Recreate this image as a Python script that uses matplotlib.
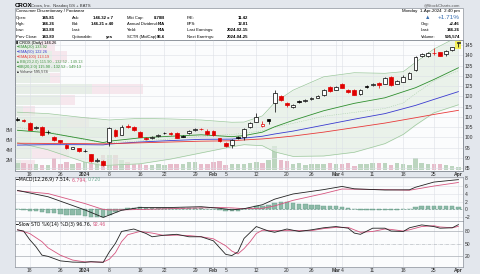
import numpy as np
import matplotlib.pyplot as plt

plt.rcParams['font.family'] = ['Liberation Sans', 'DejaVu Sans']

# ---------------- data ----------------
# daily candles, 14-Dec-2023 .. 1-Apr-2024
opens = [109.2, 108.3, 107.0, 104.6, 105.3, 102.6, 100.2, 98.6, 96.4, 94.6, 94.8, 93.2, 91.8, 88.8, 88.6,
         98.0, 103.6, 101.2, 105.6, 105.2, 102.8, 99.8, 99.8, 100.7, 102.3, 102.4, 102.3, 100.6, 102.2, 103.6,
         104.2, 103.3, 103.0, 99.6, 97.5, 96.4, 100.2, 100.4, 105.0, 107.7, 105.6, 108.8, 116.6, 120.2, 116.9,
         114.8, 117.6, 117.6, 118.6, 119.3, 120.6, 124.6, 123.3, 126.0, 123.2, 123.2, 120.9, 125.0, 125.4, 126.6,
         126.2, 129.4, 126.2, 127.0, 128.6, 132.8, 139.6, 139.8, 141.2, 141.4, 140.4, 142.4, 145.81]
highs = [109.8, 108.8, 107.4, 105.6, 105.8, 103.8, 100.6, 98.9, 96.8, 95.6, 95.0, 94.6, 92.0, 90.0, 88.9,
         105.0, 104.2, 106.0, 106.4, 105.6, 103.0, 100.2, 100.5, 101.6, 102.6, 102.8, 102.6, 101.0, 103.4, 104.6,
         104.5, 104.0, 103.4, 99.8, 97.8, 99.2, 100.8, 104.4, 107.6, 112.0, 108.0, 109.0, 123.0, 120.8, 117.2,
         116.4, 118.0, 118.6, 119.8, 120.6, 123.4, 125.0, 125.2, 126.4, 123.6, 123.4, 123.6, 125.4, 126.6, 127.0,
         129.2, 129.8, 127.8, 130.2, 131.6, 139.6, 141.2, 141.6, 143.6, 141.6, 142.4, 143.8, 146.26]
lows = [107.9, 107.4, 103.4, 104.2, 100.6, 101.8, 98.4, 97.2, 94.5, 94.4, 93.1, 92.8, 88.3, 88.0, 86.0,
        96.0, 100.1, 101.0, 104.6, 103.2, 100.0, 98.8, 99.4, 100.3, 101.6, 101.2, 99.6, 100.0, 101.9, 103.3,
        103.6, 101.2, 100.6, 98.0, 95.5, 94.8, 99.4, 99.0, 104.6, 107.4, 105.2, 106.5, 112.5, 117.8, 114.8,
        114.3, 116.8, 117.3, 118.3, 119.0, 120.2, 122.2, 123.0, 123.9, 121.8, 120.5, 120.7, 124.2, 125.0, 124.2,
        126.0, 125.2, 125.8, 126.8, 128.4, 132.5, 139.0, 139.2, 140.0, 139.6, 139.8, 142.0, 143.88]
closes = [108.4, 107.8, 103.8, 105.2, 101.0, 102.9, 98.8, 97.8, 94.8, 95.3, 93.4, 93.6, 88.6, 89.2, 86.4,
          104.6, 100.5, 105.2, 105.0, 103.6, 100.4, 99.5, 100.1, 101.0, 102.0, 101.5, 99.9, 100.4, 103.0, 104.2,
          104.0, 101.5, 101.0, 98.4, 95.9, 98.8, 99.9, 104.0, 107.2, 110.1, 106.4, 108.0, 121.5, 118.2, 115.8,
          116.0, 117.3, 118.0, 119.3, 120.2, 123.0, 122.6, 124.4, 124.3, 122.2, 120.8, 123.3, 124.6, 126.2, 125.6,
          128.8, 125.5, 127.4, 129.6, 131.2, 139.3, 140.6, 141.3, 140.9, 139.8, 141.9, 143.8, 146.26]
close_before = 107.6
volume_m = [1.4, 1.4, 1.2, 1.2, 1.0, 1.0, 2.4, 1.2, 1.6, 1.2, 1.4, 1.6, 2.9, 2.2, 2.9,
            3.0, 2.9, 1.9, 1.6, 1.2, 1.2, 0.9, 0.9, 1.05, 0.9, 1.2, 1.2, 1.05, 1.6, 1.6,
            1.05, 1.2, 1.6, 1.7, 0.9, 1.05, 1.05, 1.1, 1.25, 1.6, 1.4, 1.9, 4.8, 1.9, 1.7,
            1.1, 1.25, 0.9, 1.1, 1.1, 1.1, 1.4, 1.1, 1.1, 1.25, 0.7, 1.1, 1.1, 1.25, 1.25,
            1.25, 0.9, 1.4, 1.1, 0.9, 2.4, 1.25, 1.1, 1.1, 1.1, 0.9, 0.7, 0.6]

# overlays sampled at trading-day positions
ema_pos = [0, 5, 11, 14, 15, 20, 25, 30, 35, 37, 40, 42, 45, 50, 55, 60, 65, 68, 72]
ema20 = [103.5, 102.3, 99.2, 97.5, 98.2, 99.8, 100.6, 101.3, 100.4, 100.9, 102.6, 105.2, 108.3, 113.0,
         116.6, 119.3, 124.2, 128.2, 133.9]
ema50 = [96.3, 96.5, 96.5, 96.4, 96.8, 97.8, 98.5, 99.1, 99.2, 99.7, 100.6, 101.7, 103.1, 106.0,
         108.9, 111.6, 115.6, 118.5, 122.3]
ema100 = [97.2, 97.1, 97.0, 96.9, 97.0, 97.4, 97.8, 98.2, 98.4, 98.8, 99.3, 99.8, 100.7, 102.6,
          104.8, 107.0, 109.6, 111.2, 113.2]
bb_pos = [0, 5, 11, 14, 15, 20, 25, 30, 35, 37, 40, 42, 45, 50, 55, 60, 63, 65, 68, 72]
bb_upper = [112.3, 111.6, 109.6, 108.8, 108.5, 109.3, 109.0, 108.5, 107.4, 107.5, 110.5, 117.0, 123.0,
            129.5, 131.5, 131.2, 132.0, 136.5, 143.0, 149.1]
bb_mid = [104.9, 102.8, 98.8, 97.5, 97.5, 98.3, 99.3, 100.5, 101.5, 102.0, 103.3, 105.0, 106.9, 110.3,
          112.2, 114.1, 116.8, 121.3, 127.5, 132.5]
bb_lower = [97.5, 94.0, 88.0, 86.3, 86.5, 87.2, 89.5, 92.5, 95.5, 96.5, 96.0, 93.0, 90.8, 91.0, 92.8,
            97.0, 101.5, 106.0, 112.0, 115.9]

# volume by price (millions)
vbp_low = [84.0, 89.3, 94.6, 99.9, 105.2, 110.4, 115.7, 121.0, 126.3, 131.6, 136.9, 142.2]
vbp_up = [0.8, 2.4, 3.4, 20.3, 7.0, 1.1, 6.1, 10.5, 4.7, 6.1, 5.1, 3.4]
vbp_down = [1.9, 5.0, 2.7, 10.1, 3.1, 1.6, 2.0, 6.8, 1.4, 0.0, 1.9, 2.0]

# MACD(12,26,9)
macd_pos = [0, 5, 11, 14, 15, 17, 20, 25, 30, 33, 35, 37, 40, 42, 45, 50, 53, 55, 60, 64, 65, 68, 72]
macd_line = [4.8, 3.2, -0.1, -2.0, -1.4, -0.2, 0.5, 0.5, 0.7, 0.3, -0.1, 0.2, 1.2, 2.6, 3.9, 5.0,
             5.8, 5.2, 4.9, 4.95, 5.6, 6.9, 7.514]
macd_signal = [4.7, 4.0, 1.5, 0.0, -0.1, -0.1, 0.0, 0.2, 0.4, 0.5, 0.4, 0.2, 0.3, 0.9, 2.3, 4.0,
               5.15, 5.1, 5.0, 4.85, 5.1, 5.9, 6.794]
macd_hist = [0.0, -0.1, -0.3, -0.4, -0.6, -0.8, -1.0, -1.1, -1.3, -1.4, -1.5, -1.6, -1.8, -1.9, -2.0,
             -1.4, -0.7, -0.1, 0.3, 0.45, 0.5, 0.45, 0.4, 0.4, 0.35, 0.35, 0.3, 0.3, 0.3, 0.35,
             0.3, 0.2, 0.05, -0.2, -0.5, -0.5, -0.3, 0.1, 0.4, 0.8, 1.0, 1.2, 1.7, 1.9, 1.8,
             1.6, 1.5, 1.3, 1.2, 1.1, 1.0, 0.9, 0.8, 0.65, 0.4, 0.1, -0.05, -0.05, -0.1, -0.1,
             -0.1, -0.1, -0.05, 0.0, 0.1, 0.6, 0.8, 1.0, 1.0, 0.9, 0.8, 0.75, 0.72]

# Slow stochastic %K(14) %D(3)
stok_pos = [0, 1, 2, 3, 4, 5, 7, 9, 11, 12, 14, 15, 16, 17, 19, 21, 22, 24, 26, 28, 30, 32, 34, 35,
            36, 37, 39, 41, 42, 44, 46, 48, 50, 52, 54, 55, 56, 58, 60, 61, 63, 64, 66, 68, 69, 71, 72]
sto_k = [84, 81, 60, 43, 22, 19, 8, 5, 4.5, 6, 4.4, 30, 51, 80, 86, 75, 67, 71, 73, 67, 67, 57, 24, 21,
         30, 63, 92, 81, 78, 86, 80, 84, 89, 92, 88, 76, 73, 88, 88, 81, 80, 89, 96, 92, 88, 89, 96.76]
stod_pos = [0, 2, 4, 5, 7, 9, 11, 14, 15, 16, 17, 18, 20, 22, 24, 26, 28, 30, 32, 34, 35, 36, 37, 38,
            39, 40, 42, 44, 46, 48, 50, 52, 54, 55, 56, 58, 60, 61, 63, 64, 66, 68, 69, 71, 72]
sto_d = [84, 75, 55, 40, 22, 10, 5.5, 5, 12, 28, 55, 72, 80, 76, 70, 71, 70, 67, 62, 45, 32, 25, 38, 55,
         75, 83, 82, 82, 82, 82, 87, 90, 90, 84, 78, 80, 86, 85, 81, 84, 92, 94, 91, 89, 92.46]

# date axis
tick_pos = [2, 7, 11, 15, 20, 24, 29, 32, 34, 39, 44, 48, 52, 53, 58, 63, 68, 72]
tick_labels = ['18', '26', '2024', '8', '16', '22', '29', 'Feb', '5', '12', '20', '26', 'Mar', '4',
               '11', '18', '25', 'Apr']
bold_labels = {'2024', 'Feb', 'Mar', 'Apr'}

# ---------------- figure ----------------
W, H = 480, 274
fig = plt.figure(figsize=(W / 100, H / 100), dpi=100, facecolor='#e3e7ed')


def box(x0, y0, x1, y1):
    return [x0 / W, 1 - y1 / H, (x1 - x0) / W, (y1 - y0) / H]


def ftext(x, y, s, **kw):
    kw.setdefault('fontsize', 3.0)
    kw.setdefault('va', 'center')
    return fig.text(x / W, 1 - y / H, s, **kw)


GRID = '#dde1e7'
SPINE = '#8d939c'
FS = 3.6
LEG = 2.8
x = np.arange(len(closes))
XL = (-0.45, 72.7)

# header
fig.patches.append(plt.Rectangle((14.7 / W, 1 - 40 / H), 448 / W, 32 / H, transform=fig.transFigure,
                                 facecolor='white', edgecolor=SPINE, lw=0.5))
ftext(15, 5.3, 'CROX', weight='bold', fontsize=4.4)
ftext(31, 5.5, 'Crocs, Inc.  Nasdaq GS + BATS', fontsize=3.1, color='#333')
ftext(460, 5.3, '@StockCharts.com', ha='right', fontsize=3.1, color='#555')
ftext(16, 11.3, 'Consumer Discretionary / Footwear', fontsize=3.2)

row_y = [17.6, 24.0, 30.4, 36.8]
cols = [
    (16, 55, ['Open:', 'High:', 'Low:', 'Prev Close:'], ['145.81', '146.26', '143.88', '143.80']),
    (72, 113, ['Ask:', 'Bid:', 'Last:', 'Optionable:'], ['146.32 x 7', '146.21 x 40', '', 'yes']),
    (127, 165, ['Mkt Cap:', 'Annual Dividend:', 'Yield:', 'SCTR (MidCap):'], ['8.78B', 'N/A', 'N/A', '96.6']),
    (187, 248, ['P/E:', 'EPS:', 'Last Earnings:', 'Next Earnings:'],
     ['11.42', '12.81', '2024-02-15', '2024-04-25']),
]
for lx, vx, labs, vals in cols:
    for yy, lab, val in zip(row_y, labs, vals):
        ftext(lx, yy, lab)
        ftext(vx, yy, val, ha='right', weight='bold', fontsize=3.1)

ftext(460, 11.3, 'Monday  1-Apr-2024  2:40 pm', ha='right', fontsize=3.2)
ftext(425, 17.6, '▲', color='#3a6fb0', fontsize=4.0)
ftext(460, 17.6, '+1.71%', ha='right', color='#3a6fb0', fontsize=4.6)
for yy, lab, val in zip(row_y[1:], ['Chg:', 'Last:', 'Volume:'], ['+2.46', '146.26', '595,574']):
    ftext(421, yy, lab)
    ftext(460, yy, val, ha='right', weight='bold', fontsize=3.1)

# ---------------- price panel ----------------
ax = fig.add_axes(box(14.7, 40, 462.7, 171))
ax_vp = ax.twiny()
ax_v = ax.twinx()
ax_vp.set_zorder(0)
ax_v.set_zorder(1)
ax.set_zorder(2)
ax.patch.set_visible(False)
ax_vp.patch.set_visible(True)
ax_vp.patch.set_facecolor('#fbfcfd')

# volume by price
ax_vp.barh(vbp_low, vbp_up, height=5.0, align='edge', color='#e7eee7', lw=0)
ax_vp.barh(vbp_low, vbp_down, left=vbp_up, height=5.0, align='edge', color='#f6e7ed', lw=0)
ax_vp.set_xlim(0, 60.5)
ax_vp.xaxis.set_visible(False)

# volume bars
prev = [close_before] + closes[:-1]
up = [c >= p for c, p in zip(closes, prev)]
ax_v.bar(x, volume_m, width=0.72, color=['#bcd5bf' if u else '#e7bccb' for u in up], lw=0)
ax_v.set_ylim(-0.3, 25.9)
ax_v.yaxis.tick_left()
ax_v.set_yticks([2, 4, 6, 8], ['2M', '4M', '6M', '8M'])
ax_v.tick_params(axis='y', length=0, pad=1.5, labelsize=FS, labelcolor='#333')

# bands and moving averages
ax.fill_between(bb_pos, bb_lower, bb_upper, color='#e3eee3', alpha=0.7, lw=0, zorder=0.5)
ax.plot(bb_pos, bb_upper, color='#9cc89c', lw=0.5)
ax.plot(bb_pos, bb_lower, color='#9cc89c', lw=0.5)
ax.plot(bb_pos, bb_mid, color='#a9cfa9', lw=0.4, ls=(0, (2, 2)))
ax.plot(ema_pos, ema20, color='#2f8f2f', lw=0.6)
ax.plot(ema_pos, ema50, color='#3a3ad0', lw=0.6)
ax.plot(ema_pos, ema100, color='#e83a3a', lw=0.6)

# highlight current candle
ax.bar(x[-1], highs[-1] - lows[-1] + 1.6, bottom=lows[-1] - 0.8, width=1.0, color='#f4ef5a', zorder=1.5)

# candles
cols_c = ['black' if u else '#e00000' for u in up]
ax.vlines(x, lows, highs, colors=cols_c, lw=0.5, zorder=2)
bottoms = [min(o, c) for o, c in zip(opens, closes)]
heights = [max(abs(c - o), 0.25) for o, c in zip(opens, closes)]
faces = [col if c < o else 'white' for col, o, c in zip(cols_c, opens, closes)]
ax.bar(x, heights, bottom=bottoms, width=0.62, color=faces, edgecolor=cols_c, lw=0.5, zorder=3)

ax.set_xlim(*XL)
ax.set_ylim(83.7, 147.4)
ax.yaxis.tick_right()
ax.set_yticks(range(85, 146, 5))
ax.set_xticks(tick_pos, tick_labels)
ax.tick_params(length=0, labelsize=FS, labelcolor='#333', pad=1.5)
ax.tick_params(axis='x', pad=1.0)
ax.set_axisbelow(True)
ax.grid(True, color=GRID, lw=0.4)

# legend
legend_rows = [
    ('▮ CROX (Daily) 146.26', 'black', 42.6),
    ('━EMA(20) 133.92', '#2f8f2f', 47.4),
    ('━EMA(50) 122.26', '#3a3ad0', 52.2),
    ('━EMA(100) 113.19', '#e83a3a', 57.0),
    ('▲BB(20,2.0) 115.90 - 132.52 - 149.13', '#4f974f', 61.8),
    ('━BB(20,2.0) 115.90 - 132.52 - 149.13', '#2f8f2f', 66.6),
    ('▲Volume 595,574', '#333333', 71.4),
]
for s, c, yy in legend_rows:
    ftext(16, yy, s, color=c, fontsize=LEG)

# ---------------- MACD panel ----------------
ax_m = fig.add_axes(box(14.7, 176.5, 462.7, 221))
ax_m.set_facecolor('#fbfcfd')
ax_m.bar(x, macd_hist, width=0.72, color='#8dbaa8', edgecolor='#6a9f8b', lw=0.3)
ax_m.axhline(0, color='#6a9f8b', lw=0.5, dashes=(3, 2))
ax_m.plot(macd_pos, macd_signal, color='#d6557f', lw=0.6)
ax_m.plot(macd_pos, macd_line, color='#222222', lw=0.6)
ax_m.set_xlim(*XL)
ax_m.set_ylim(-2.9, 8.3)
ax_m.yaxis.tick_right()
ax_m.set_yticks([-2, 0, 2, 4, 6, 8])
ax_m.set_xticks(tick_pos, [])
ax_m.tick_params(length=0, labelsize=FS, labelcolor='#333', pad=1.5)
ax_m.set_axisbelow(True)
ax_m.grid(True, color=GRID, lw=0.4)
t = ftext(16, 179.8, '━MACD(12,26,9) 7.514, ', fontsize=3.3, family=['DejaVu Sans'])
t = ax_m.annotate('6.794, ', xy=(1, 0.5), xycoords=t, va='center', fontsize=3.3,
                  color='#d6557f', family=['DejaVu Sans'], annotation_clip=False)
ax_m.annotate('0.720', xy=(1, 0.5), xycoords=t, va='center', fontsize=3.3,
              color='#6aa890', family=['DejaVu Sans'], annotation_clip=False)

# ---------------- Stochastic panel ----------------
ax_s = fig.add_axes(box(14.7, 221, 462.7, 267))
ax_s.set_facecolor('#fbfcfd')
ax_s.axhline(80, color='#a8adb4', lw=0.5)
ax_s.axhline(20, color='#a8adb4', lw=0.5)
ax_s.axhline(50, color='#a8adb4', lw=0.4, ls='-.')
ax_s.plot(stod_pos, sto_d, color='#d6557f', lw=0.6)
ax_s.plot(stok_pos, sto_k, color='#222222', lw=0.6)
ax_s.set_xlim(*XL)
ax_s.set_ylim(-7, 105.6)
ax_s.yaxis.tick_right()
ax_s.set_yticks([20, 50, 80])
ax_s.set_xticks(tick_pos, tick_labels)
ax_s.tick_params(length=0, labelsize=FS, labelcolor='#333', pad=1.5)
ax_s.tick_params(axis='x', pad=1.0)
ax_s.set_axisbelow(True)
ax_s.grid(True, axis='x', color=GRID, lw=0.4)
t = ftext(16, 224.2, '━Slow STO %K(14) %D(3) 96.76, ', fontsize=3.3, family=['DejaVu Sans'])
ax_s.annotate('92.46', xy=(1, 0.5), xycoords=t, va='center', fontsize=3.3,
              color='#d6557f', family=['DejaVu Sans'], annotation_clip=False)

for a in (ax, ax_m, ax_s):
    for lab in a.get_xticklabels():
        if lab.get_text() in bold_labels:
            lab.set_fontweight('bold')
for a in (ax, ax_v, ax_vp, ax_m, ax_s):
    for sp in a.spines.values():
        sp.set_color(SPINE)
        sp.set_linewidth(0.5)

fig.savefig('out.png', dpi=100, facecolor=fig.get_facecolor())
